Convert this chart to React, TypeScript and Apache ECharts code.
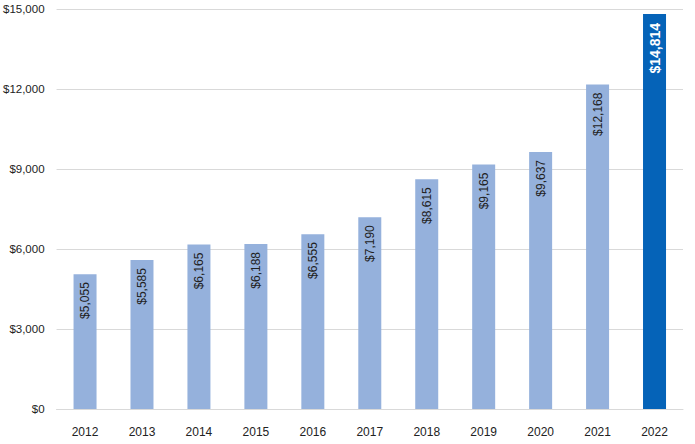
import React, { useEffect, useRef } from "react";
import * as echarts from "echarts";

const years = ["2012", "2013", "2014", "2015", "2016", "2017", "2018", "2019", "2020", "2021", "2022"];
const values = [5055, 5585, 6165, 6188, 6555, 7190, 8615, 9165, 9637, 12168, 14814];
const yTicks = { min: 0, max: 15000, interval: 3000 };

const fmt = (v: number) => "$" + v.toLocaleString("en-US");
const FONT = "Liberation Sans Narrow, Arial Narrow, Liberation Sans, Arial, sans-serif";

export default function App() {
  const ref = useRef<HTMLDivElement>(null);
  useEffect(() => {
    if (!ref.current) return;
    const chart = echarts.init(ref.current, null, { renderer: "svg" });
    const last = values.length - 1;
    chart.setOption({
      animation: false,
      grid: { left: 53, right: 12, top: 9, bottom: 35 },
      xAxis: {
        type: "category",
        data: years,
        axisLine: { show: true, lineStyle: { color: "#d9d9d9", width: 1 } },
        axisTick: { show: false },
        axisLabel: { color: "#222", fontFamily: FONT, fontSize: 12, margin: 17 },
      },
      yAxis: {
        type: "value",
        min: yTicks.min,
        max: yTicks.max,
        interval: yTicks.interval,
        axisLine: { show: false },
        axisTick: { show: false },
        splitLine: { lineStyle: { color: "#d9d9d9", width: 1 } },
        axisLabel: {
          color: "#222",
          fontFamily: FONT,
          fontSize: 11.5,
          margin: 12,
          formatter: (v: number) => fmt(v),
        },
      },
      series: [
        {
          type: "bar",
          barWidth: 23,
          data: values.map((v, i) => ({
            value: v,
            itemStyle: { color: i === last ? "#0563b8" : "#95b1dc" },
            label:
              i === last
                ? { color: "#fff", fontSize: 14, fontWeight: "bold", distance: 9 }
                : {},
          })),
          label: {
            show: true,
            position: "insideTop",
            rotate: 90,
            align: "right",
            verticalAlign: "middle",
            distance: 8,
            color: "#222",
            fontSize: 12,
            fontFamily: FONT,
            formatter: (p: any) => fmt(p.value),
          },
        },
      ],
    });
    return () => chart.dispose();
  }, []);
  return <div ref={ref} style={{ position: "absolute", left: 0, top: 0, width: 695, height: 444 }} />;
}
